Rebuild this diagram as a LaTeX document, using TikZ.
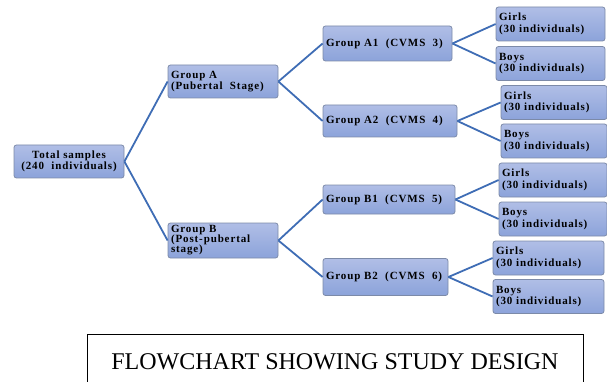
\documentclass[tikz,border=0pt]{standalone}
\usepackage{fontspec}
\setmainfont{Liberation Serif}
\newfontfamily\boxfont[LetterSpace=8]{Liberation Serif}
\definecolor{boxtop}{HTML}{B0BEE6}
\definecolor{boxbot}{HTML}{8CA3DA}
\definecolor{boxline}{HTML}{7C8AA8}
\definecolor{linkblue}{HTML}{3F6DB5}
\begin{document}
\begin{tikzpicture}[x=1pt,y=-1pt,
    groupbox/.style={draw=boxline, line width=0.8, rounded corners=2.5,
      top color=boxtop, bottom color=boxbot, align=left,
      inner xsep=3, inner ysep=0, minimum height=34,
      font=\boxfont\bfseries\fontsize{11}{11.5}\selectfont},
    link/.style={draw=linkblue, line width=1.8}]
        \clip (0,0) rectangle (607,382);
        \node[groupbox, align=center, text width=104, minimum height=33] (total) at (69,161.5) {Total samples\\(240~~individuals)};
        \node[groupbox, text width=104, minimum height=33] (gA) at (223,81.5) {Group A\\(Pubertal~~Stage)};
        \node[groupbox, text width=104, minimum height=35, font=\boxfont\bfseries\fontsize{11}{10}\selectfont] (gB) at (223,240.5) {Group B\\(Post-pubertal\\stage)};
        \node[groupbox, text width=123, minimum height=35] (gA1) at (387.5,43.5) {Group A1~~(CVMS~~3)};
        \node[groupbox, text width=128, minimum height=32] (gA2) at (390,121) {Group A2~~(CVMS~~4)};
        \node[groupbox, text width=126, minimum height=29] (gB1) at (389,199.5) {Group B1~~(CVMS~~5)};
        \node[groupbox, text width=119, minimum height=37] (gB2) at (385.5,277) {Group B2~~(CVMS~~6)};
        \node[groupbox, text width=103] (gA1g) at (550.5,24) {Girls\\(30 individuals)};
        \node[groupbox, text width=103] (gA1b) at (550.5,63.5) {Boys\\(30 individuals)};
        \node[groupbox, text width=100] (gA2g) at (554,102.5) {Girls\\(30 individuals)};
        \node[groupbox, text width=100] (gA2b) at (554,141) {Boys\\(30 individuals)};
        \node[groupbox, text width=102] (gB1g) at (553,180) {Girls\\(30 individuals)};
        \node[groupbox, text width=102] (gB1b) at (553,219) {Boys\\(30 individuals)};
        \node[groupbox, text width=105] (gB2g) at (548.5,258) {Girls\\(30 individuals)};
        \node[groupbox, text width=105] (gB2b) at (548.5,296.5) {Boys\\(30 individuals)};
        \draw[link] (total.east) -- (gA.west);
        \draw[link] (total.east) -- (gB.west);
        \draw[link] (gA.east) -- (gA1.west);
        \draw[link] (gA.east) -- (gA2.west);
        \draw[link] (gB.east) -- (gB1.west);
        \draw[link] (gB.east) -- (gB2.west);
        \draw[link] (gA1.east) -- (gA1g.west);
        \draw[link] (gA1.east) -- (gA1b.west);
        \draw[link] (gA2.east) -- (gA2g.west);
        \draw[link] (gA2.east) -- (gA2b.west);
        \draw[link] (gB1.east) -- (gB1g.west);
        \draw[link] (gB1.east) -- (gB1b.west);
        \draw[link] (gB2.east) -- (gB2g.west);
        \draw[link] (gB2.east) -- (gB2b.west);
        \node[draw, line width=1, minimum width=496, minimum height=55, font=\fontsize{24}{26}\selectfont] (title) at (335,362) {FLOWCHART SHOWING STUDY DESIGN};
    \end{tikzpicture}
\end{document}
